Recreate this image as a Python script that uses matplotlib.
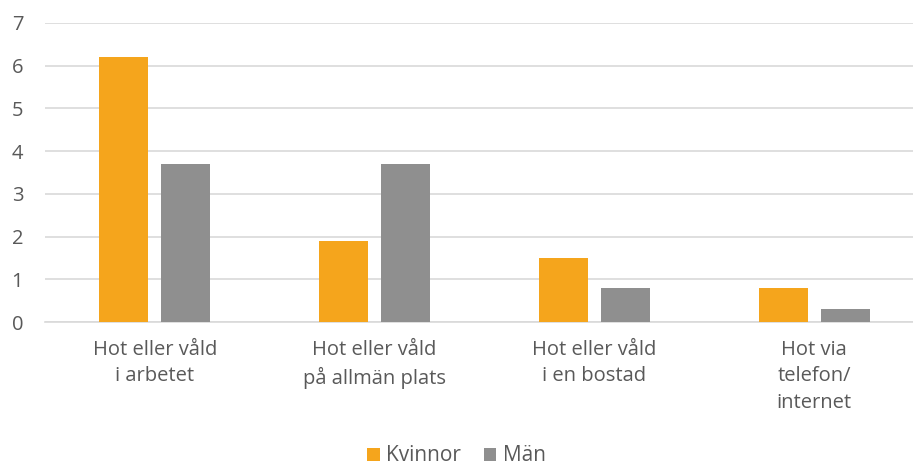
import numpy as np
import matplotlib.pyplot as plt

categories = ["Hot eller våld\ni arbetet", "Hot eller våld\npå allmän plats",
              "Hot eller våld\ni en bostad", "Hot via\ntelefon/\ninternet"]
kvinnor = [6.2, 1.9, 1.5, 0.8]
man = [3.7, 3.7, 0.8, 0.3]

orange = "#F5A51C"
grey = "#8F8F8F"
text_col = "#595959"

plt.rcParams["font.family"] = ["Open Sans", "DejaVu Sans"]

fig = plt.figure(figsize=(9.13, 4.72), dpi=100)
ax = fig.add_axes([45 / 913, 150 / 472, 879 / 913, 299 / 472])

x = np.arange(len(categories))
w = 0.223
off = 0.141
ax.bar(x - off, kvinnor, w, color=orange, label="Kvinnor", zorder=3)
ax.bar(x + off, man, w, color=grey, label="Män", zorder=3)

ax.set_xlim(-0.5, len(categories) - 0.5)
ax.set_ylim(0, 7)
ax.set_yticks(range(8))
ax.grid(axis="y", color="#D9D9D9", linewidth=1.2, zorder=0)
ax.set_xticks(x)
ax.set_xticklabels(categories, linespacing=1.42)
ax.tick_params(axis="both", length=0, labelsize=14.5, colors=text_col)
ax.tick_params(axis="x", pad=13)
ax.tick_params(axis="y", pad=24)
for lbl in ax.get_yticklabels():
    lbl.set_horizontalalignment("left")
for s in ["top", "right", "left"]:
    ax.spines[s].set_visible(False)
ax.spines["bottom"].set_color("#D9D9D9")
ax.spines["bottom"].set_linewidth(1.2)

fig.legend(loc="lower center", bbox_to_anchor=(0.5, -0.028), ncol=2, frameon=False,
           fontsize=15, labelcolor=text_col, handlelength=0.6, handleheight=0.6,
           handletextpad=0.3, columnspacing=1.1)

fig.savefig("out.png", dpi=100)
